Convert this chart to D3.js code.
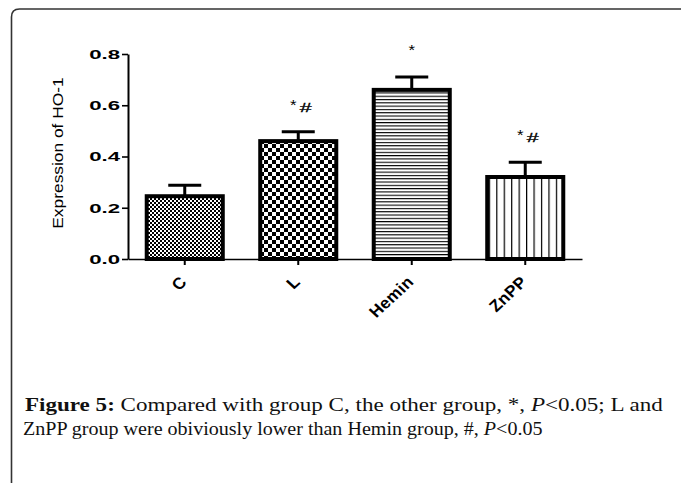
<!DOCTYPE html>
<html>
<head>
<meta charset="utf-8">
<script src="https://cdn.jsdelivr.net/npm/d3@7"></script>
<style>
  body { margin: 0; background: #fff; }
  svg { display: block; }
</style>
</head>
<body>
<div id="chart"></div>
<script>
// values
const groups = ["C", "L", "Hemin", "ZnPP"];
const means  = [0.245, 0.46, 0.66, 0.32];
const errors = [0.043, 0.037, 0.05, 0.058];
const marks  = ["", "*#", "*", "*#"];
const yTicks = [0, 0.2, 0.4, 0.6, 0.8];

const patternIds = ["pC", "pL", "pH", "pZ"];

const W = 681, H = 483;
const plot = {left: 128, right: 582, top: 54, bottom: 259};

const svg = d3.select("#chart").append("svg")
  .attr("width", W)
  .attr("height", H);

svg.append("rect").attr("width", W).attr("height", H).attr("fill", "#fff");

// the source image is stretched sideways, so text gets stretched too
function stretch(sel, sx, x0, y0) {
  sel.attr("transform", `translate(${x0},${y0}) scale(${sx},1) translate(${-x0},${-y0})`);
}

// frame of the figure box
svg.append("path")
  .attr("d", "M11.5,490 L11.5,17 Q11.5,9 19.5,9 L690,9")
  .attr("fill", "none")
  .attr("stroke", "#333")
  .attr("stroke-width", 1.6);

const x = d3.scaleBand()
  .domain(groups)
  .range([plot.left, plot.right])
  .paddingInner(0.33)
  .paddingOuter(0.165);

const y = d3.scaleLinear()
  .domain([0, 0.8])
  .range([plot.bottom, plot.top]);

// fill patterns
const defs = svg.append("defs");

let p = defs.append("pattern").attr("id", "pC")
  .attr("patternUnits", "userSpaceOnUse").attr("width", 4).attr("height", 4);
p.append("rect").attr("width", 4).attr("height", 4).attr("fill", "#fff");
p.append("rect").attr("width", 2).attr("height", 2).attr("fill", "#000");
p.append("rect").attr("x", 2).attr("y", 2).attr("width", 2).attr("height", 2).attr("fill", "#000");

p = defs.append("pattern").attr("id", "pL")
  .attr("patternUnits", "userSpaceOnUse").attr("width", 8).attr("height", 8);
p.append("rect").attr("width", 8).attr("height", 8).attr("fill", "#fff");
p.append("rect").attr("width", 4).attr("height", 4).attr("fill", "#000");
p.append("rect").attr("x", 4).attr("y", 4).attr("width", 4).attr("height", 4).attr("fill", "#000");

p = defs.append("pattern").attr("id", "pH")
  .attr("patternUnits", "userSpaceOnUse").attr("width", 4).attr("height", 3.3);
p.append("rect").attr("width", 4).attr("height", 3.3).attr("fill", "#fff");
p.append("rect").attr("width", 4).attr("height", 1.1).attr("fill", "#000");

p = defs.append("pattern").attr("id", "pZ")
  .attr("patternUnits", "userSpaceOnUse")
  .attr("x", x("ZnPP") + 9).attr("width", 7.45).attr("height", 4);
p.append("rect").attr("width", 7.45).attr("height", 4).attr("fill", "#fff");
p.append("rect").attr("width", 1.2).attr("height", 4).attr("fill", "#000");

// bars
svg.append("g")
  .selectAll("rect")
  .data(groups)
  .join("rect")
  .attr("x", d => x(d))
  .attr("y", (d, i) => y(means[i]))
  .attr("width", x.bandwidth())
  .attr("height", (d, i) => y(0) - y(means[i]))
  .attr("fill", (d, i) => `url(#${patternIds[i]})`)
  .attr("stroke", "#000")
  .attr("stroke-width", 4);

// error bars (upper half only)
const err = svg.append("g")
  .attr("stroke", "#000")
  .attr("stroke-width", 3);

groups.forEach((g, i) => {
  let cx = x(g) + x.bandwidth() / 2;
  err.append("line")
    .attr("x1", cx).attr("x2", cx)
    .attr("y1", y(means[i])).attr("y2", y(means[i] + errors[i]));
  err.append("line")
    .attr("x1", cx - 16.5).attr("x2", cx + 16.5)
    .attr("y1", y(means[i] + errors[i])).attr("y2", y(means[i] + errors[i]));
});

// significance marks
const ann = svg.append("g")
  .attr("font-family", "Liberation Sans, Arial, sans-serif")
  .attr("fill", "#000");

groups.forEach((g, i) => {
  if (!marks[i]) return;
  let cx = x(g) + x.bandwidth() / 2,
      top = y(means[i] + errors[i]),
      hasHash = marks[i].indexOf("#") >= 0,
      sx = hasHash ? cx - 5 : cx;

  let star = ann.append("text")
    .attr("x", sx)
    .attr("y", top - 22)
    .attr("text-anchor", "middle")
    .attr("font-size", 14)
    .text("*");
  stretch(star, 1.2, sx, top - 22);

  if (hasHash) {
    let hx = cx + 7.5;
    let hash = ann.append("text")
      .attr("x", hx)
      .attr("y", top - 20)
      .attr("text-anchor", "middle")
      .attr("font-size", 12.5)
      .attr("stroke", "#000")
      .attr("stroke-width", 0.3)
      .text("#");
    stretch(hash, 1.7, hx, top - 20);
  }
});

// axes
const yAxis = svg.append("g")
  .attr("transform", `translate(${plot.left},0)`)
  .call(d3.axisLeft(y)
    .tickValues(yTicks)
    .tickFormat(d3.format(".1f"))
    .tickSize(6)
    .tickSizeOuter(0));

yAxis.select(".domain").attr("stroke-width", 2);
yAxis.selectAll(".tick line").attr("stroke-width", 1.6);
yAxis.selectAll(".tick text")
  .attr("x", -8)
  .attr("dy", "0.36em")
  .attr("font-family", "Liberation Sans, Arial, sans-serif")
  .attr("font-weight", "bold")
  .attr("font-size", 12)
  .attr("fill", "#000")
  .call(stretch, 1.85, -8, 0);

const xAxis = svg.append("g")
  .attr("transform", `translate(0,${plot.bottom})`)
  .call(d3.axisBottom(x)
    .tickSize(6)
    .tickSizeOuter(0));

xAxis.select(".domain").attr("stroke-width", 1.6);
xAxis.selectAll(".tick line").attr("stroke-width", 2);
xAxis.selectAll(".tick text")
  .attr("x", 0)
  .attr("y", 0)
  .attr("dy", 0)
  .attr("transform", "translate(3,24) scale(1.08,1) rotate(-45)")
  .attr("text-anchor", "end")
  .attr("font-family", "Liberation Sans, Arial, sans-serif")
  .attr("font-weight", "bold")
  .attr("font-size", 16)
  .attr("letter-spacing", 0.3)
  .attr("fill", "#000");

// y axis title
svg.append("text")
  .attr("transform", "translate(63,153) rotate(-90) scale(1.24,1.05)")
  .attr("text-anchor", "middle")
  .attr("font-family", "Liberation Sans, Arial, sans-serif")
  .attr("font-size", 14)
  .text("Expression of HO-1");

// caption
const cap = svg.append("g")
  .attr("font-family", "Liberation Serif, Times New Roman, serif")
  .attr("font-size", 19.5)
  .attr("fill", "#111");

let line1 = cap.append("text")
  .attr("x", 25).attr("y", 411);
line1.append("tspan").attr("font-weight", "bold").text("Figure 5:");
line1.append("tspan").text(" Compared with group C, the other group, *, ");
line1.append("tspan").attr("font-style", "italic").text("P");
line1.append("tspan").text("<0.05; L and");

let line2 = cap.append("text")
  .attr("x", 23).attr("y", 435);
line2.append("tspan").text("ZnPP group were obiviously lower than Hemin group, #, ");
line2.append("tspan").attr("font-style", "italic").text("P");
line2.append("tspan").text("<0.05");

// fit each caption line to its width in the figure
[[line1, 638, 25, 411], [line2, 520, 23, 435]].forEach(([t, w, x0, y0]) => {
  let natural = t.node().getComputedTextLength();
  stretch(t, w / natural, x0, y0);
});
</script>
</body>
</html>
